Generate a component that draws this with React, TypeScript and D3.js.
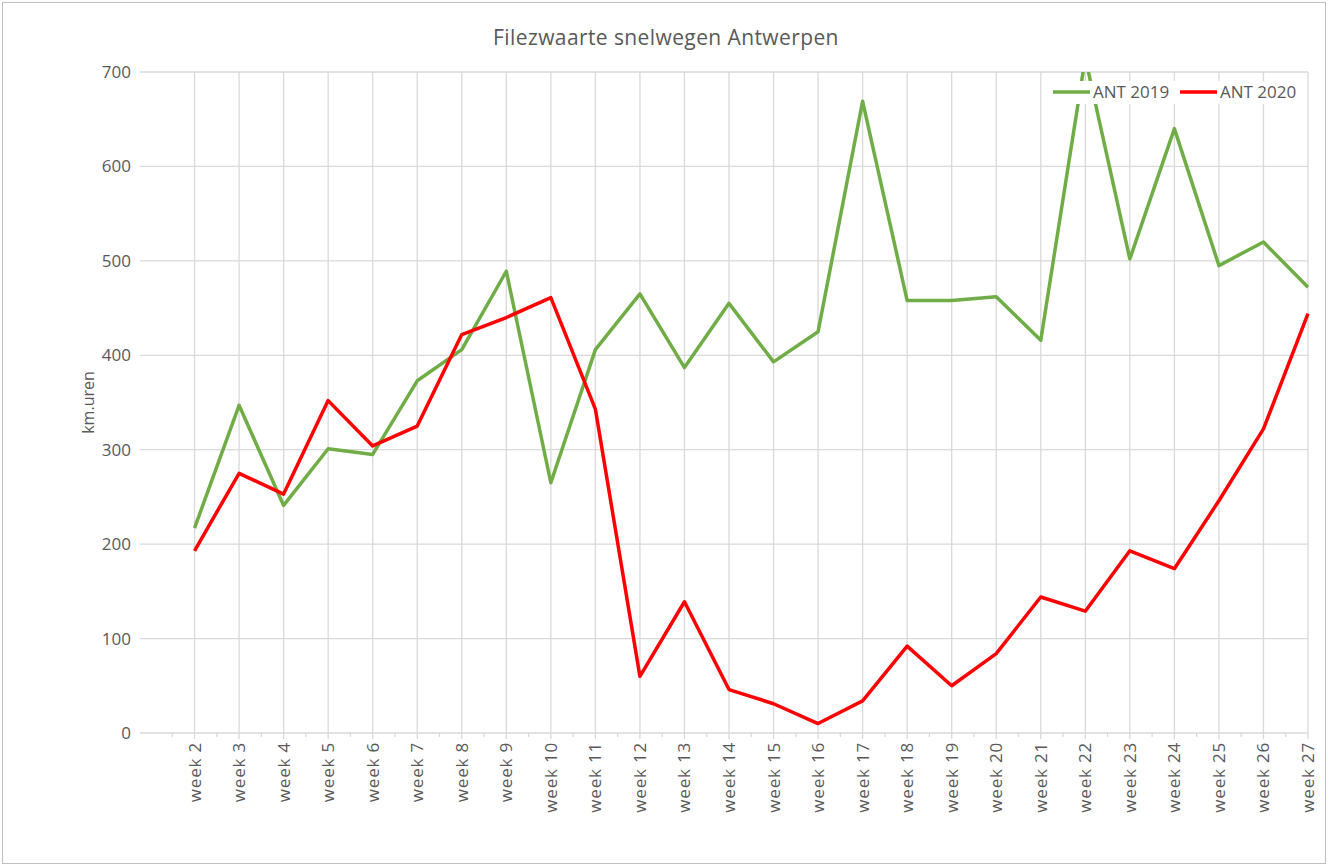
import { useEffect, useRef } from 'react';
import * as d3 from 'd3';

const weeks = [
  'week 2', 'week 3', 'week 4', 'week 5', 'week 6', 'week 7', 'week 8', 'week 9',
  'week 10', 'week 11', 'week 12', 'week 13', 'week 14', 'week 15', 'week 16', 'week 17',
  'week 18', 'week 19', 'week 20', 'week 21', 'week 22', 'week 23', 'week 24', 'week 25',
  'week 26', 'week 27',
];
const ant2019 = [
  217, 347, 241, 301, 295, 373, 406, 489, 265, 406, 465, 387, 455, 393, 425, 669,
  458, 458, 462, 416, 715, 502, 640, 495, 520, 472,
];
const ant2020 = [
  193, 275, 253, 352, 304, 325, 422, 440, 461, 343, 60, 139, 46, 31, 10, 34,
  92, 50, 84, 144, 129, 193, 174, 246, 322, 444,
];
const yTicks = [0, 100, 200, 300, 400, 500, 600, 700];

const W = 1334;
const H = 866;
const FONT = '"Open Sans", Lato, sans-serif';
const TEXT = '#595959';
const GRID = '#d9d9d9';

export default function App() {
  const svgRef = useRef<SVGSVGElement>(null);

  useEffect(() => {
    const svg = d3.select(svgRef.current);
    svg.selectAll('*').remove();

    const left = 140, plotX0 = 150, right = 1308, top = 72, bottom = 733;

    // week 1 slot is empty, so index -1 sits at the plot's left edge
    const x = d3.scaleLinear().domain([-1, weeks.length - 1]).range([plotX0, right]);
    const y = d3.scaleLinear().domain([0, 700]).range([bottom, top]);

    svg.append('rect')
      .attr('x', 2.5).attr('y', 2.5)
      .attr('width', 1323).attr('height', 861)
      .attr('fill', '#fff')
      .attr('stroke', '#bfbfbf');

    // title
    svg.append('text')
      .attr('x', 666).attr('y', 45)
      .attr('text-anchor', 'middle')
      .attr('font-family', FONT)
      .attr('font-size', 21)
      .attr('letter-spacing', 0.4)
      .attr('fill', TEXT)
      .text('Filezwaarte snelwegen Antwerpen');

    // horizontal grid
    svg.append('g').selectAll('line').data(yTicks).join('line')
      .attr('x1', left).attr('x2', right)
      .attr('y1', d => y(d)).attr('y2', d => y(d))
      .attr('stroke', GRID).attr('stroke-width', 1.3);

    // vertical grid
    svg.append('g').selectAll('line').data(weeks).join('line')
      .attr('x1', (_, i) => x(i)).attr('x2', (_, i) => x(i))
      .attr('y1', top).attr('y2', bottom)
      .attr('stroke', GRID).attr('stroke-width', 1.3);

    // tick marks below the axis
    svg.append('g').selectAll('line').data(weeks).join('line')
      .attr('x1', (_, i) => x(i)).attr('x2', (_, i) => x(i))
      .attr('y1', bottom).attr('y2', bottom + 6)
      .attr('stroke', GRID).attr('stroke-width', 1.3);
    svg.append('g').selectAll('line').data(d3.range(-1, weeks.length - 1)).join('line')
      .attr('x1', d => x(d + 0.5)).attr('x2', d => x(d + 0.5))
      .attr('y1', bottom).attr('y2', bottom + 4)
      .attr('stroke', GRID).attr('stroke-width', 1.3);

    // y labels
    svg.append('g').selectAll('text').data(yTicks).join('text')
      .attr('x', 131).attr('y', d => y(d) + 6)
      .attr('text-anchor', 'end')
      .attr('font-family', FONT)
      .attr('font-size', 17)
      .attr('fill', TEXT)
      .text(d => d);

    svg.append('text')
      .attr('transform', `translate(94,${(top + bottom) / 2}) rotate(-90)`)
      .attr('text-anchor', 'middle')
      .attr('font-family', FONT)
      .attr('font-size', 16)
      .attr('fill', TEXT)
      .text('km.uren');

    // x labels
    svg.append('g').selectAll('text').data(weeks).join('text')
      .attr('transform', (_, i) => `translate(${x(i) + 6},${bottom + 9}) rotate(-90)`)
      .attr('text-anchor', 'end')
      .attr('font-family', FONT)
      .attr('font-size', 17)
      .attr('letter-spacing', 0.8)
      .attr('fill', TEXT)
      .text(d => d);

    // lines
    svg.append('clipPath').attr('id', 'plot-clip')
      .append('rect')
      .attr('x', left).attr('y', top)
      .attr('width', right - left + 2).attr('height', bottom - top);

    const line = d3.line<number>()
      .x((_, i) => x(i))
      .y(d => y(d));

    const series = [
      { name: 'ANT 2019', values: ant2019, color: '#70ad47' },
      { name: 'ANT 2020', values: ant2020, color: '#ff0000' },
    ];

    const lines = svg.append('g').attr('clip-path', 'url(#plot-clip)');
    series.forEach(s => {
      lines.append('path')
        .datum(s.values)
        .attr('fill', 'none')
        .attr('stroke', s.color)
        .attr('stroke-width', 3.5)
        .attr('stroke-linejoin', 'round')
        .attr('d', line);
    });

    // legend
    const legend = svg.append('g').attr('transform', 'translate(1047,81)');
    legend.append('rect')
      .attr('width', 258).attr('height', 23)
      .attr('fill', '#fff');
    series.forEach((s, i) => {
      const lg = legend.append('g').attr('transform', `translate(${6 + i * 127},11)`);
      lg.append('line')
        .attr('x1', 0).attr('x2', 37)
        .attr('stroke', s.color)
        .attr('stroke-width', 3.5);
      lg.append('text')
        .attr('x', 40).attr('y', 6)
        .attr('font-family', FONT)
        .attr('font-size', 17)
        .attr('fill', TEXT)
        .text(s.name);
    });
  }, []);

  return (
    <svg
      ref={svgRef}
      width={W}
      height={H}
      style={{ position: 'absolute', left: 0, top: 0, display: 'block' }}
    />
  );
}
